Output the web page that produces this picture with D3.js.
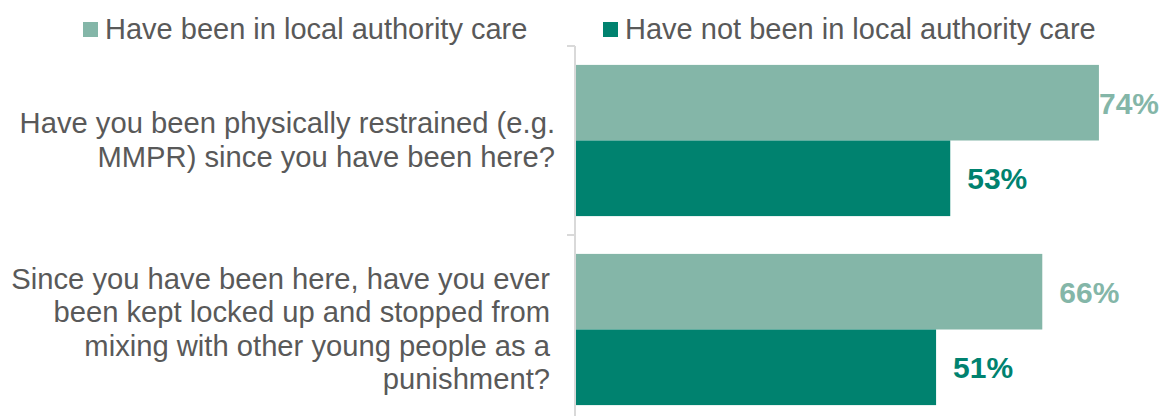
<!DOCTYPE html>
<html>
<head>
<meta charset="utf-8">
<script src="https://cdn.jsdelivr.net/npm/d3@7"></script>
<style>
  html, body { margin: 0; padding: 0; background: #ffffff; }
  svg { display: block; font-family: "Liberation Sans", Arial, sans-serif; }
</style>
</head>
<body>
<svg id="chart" width="1162" height="416"></svg>
<script>
// Survey questions (each drawn as wrapped, right-aligned lines)
const questions = [
  ["Have you been physically restrained (e.g.", "MMPR) since you have been here?"],
  ["Since you have been here, have you ever", "been kept locked up and stopped from", "mixing with other young people as a", "punishment?"]
];
const questionKeys = ["restrained", "lockedUp"];

// Respondent groups
const groups = ["Have been in local authority care", "Have not been in local authority care"];
const groupColors = ["#84b6a8", "#00826f"];

// Percentage answering yes, per question
const beenInCare = [74, 66];
const notInCare = [53, 51];
const seriesValues = [beenInCare, notInCare];

const svg = d3.select("#chart");
const W = 1162;
const textGray = "#595959";

const x = d3.scaleLinear().domain([0, 100]).range([575, 1283]);
const y = d3.scaleBand().domain(questionKeys).range([46, 424]).paddingInner(0).paddingOuter(0);
const yInner = d3.scaleBand().domain(groups).range([0, y.bandwidth()]).paddingInner(0).paddingOuter(0.25);

// Legend
const legendX = [83, 603];
const legend = svg.selectAll("g.legend").data(groups).join("g")
  .attr("class", "legend")
  .attr("transform", (d, i) => `translate(${legendX[i]},0)`);
legend.append("rect")
  .attr("x", 0).attr("y", 22).attr("width", 15).attr("height", 15)
  .attr("fill", (d, i) => groupColors[i]);
legend.append("text")
  .attr("x", 22).attr("y", 39)
  .attr("font-size", 29).attr("fill", textGray)
  .text(d => d);

// Bars
const rows = [];
questionKeys.forEach((q, qi) => {
  groups.forEach((g, gi) => rows.push({ q, g, gi, v: seriesValues[gi][qi] }));
});

svg.append("g").selectAll("rect").data(rows).join("rect")
  .attr("x", x(0))
  .attr("y", d => y(d.q) + yInner(d.g))
  .attr("width", d => x(d.v) - x(0))
  .attr("height", yInner.bandwidth())
  .attr("fill", d => groupColors[d.gi]);

// Value labels, kept inside the canvas
const labels = svg.append("g").selectAll("text").data(rows).join("text")
  .attr("y", d => y(d.q) + yInner(d.g) + yInner.bandwidth() / 2)
  .attr("dy", "0.36em")
  .attr("font-size", 30).attr("font-weight", "bold")
  .attr("fill", d => groupColors[d.gi])
  .text(d => d.v + "%");
labels.each(function(d) {
  const w = this.getComputedTextLength();
  const px = Math.min(x(d.v) + 17, W - 3 - w);
  d3.select(this).attr("x", px);
});

// Category axis line with ticks at band boundaries
const axis = svg.append("g").attr("stroke", "#d9d9d9").attr("stroke-width", 2);
axis.append("line").attr("x1", 575).attr("x2", 575).attr("y1", 46).attr("y2", 424);
const bounds = questionKeys.map(q => y(q)).concat([y.range()[1]]);
axis.selectAll("line.tick").data(bounds).join("line")
  .attr("class", "tick")
  .attr("x1", 567).attr("x2", 575)
  .attr("y1", d => d).attr("y2", d => d);

// Question labels (baselines centred on each band)
const lineH = 33.4;
const labelRight = [555, 550];
const qLabels = svg.append("g").selectAll("text").data(questions).join("text")
  .attr("text-anchor", "end")
  .attr("font-size", 29.2).attr("fill", textGray);
qLabels.each(function(lines, qi) {
  const mid = y(questionKeys[qi]) + y.bandwidth() / 2 + 9.6;
  const first = mid - (lines.length - 1) * lineH / 2;
  d3.select(this).selectAll("tspan").data(lines).join("tspan")
    .attr("x", labelRight[qi])
    .attr("y", (d, i) => first + i * lineH)
    .text(d => d);
});
</script>
</body>
</html>
